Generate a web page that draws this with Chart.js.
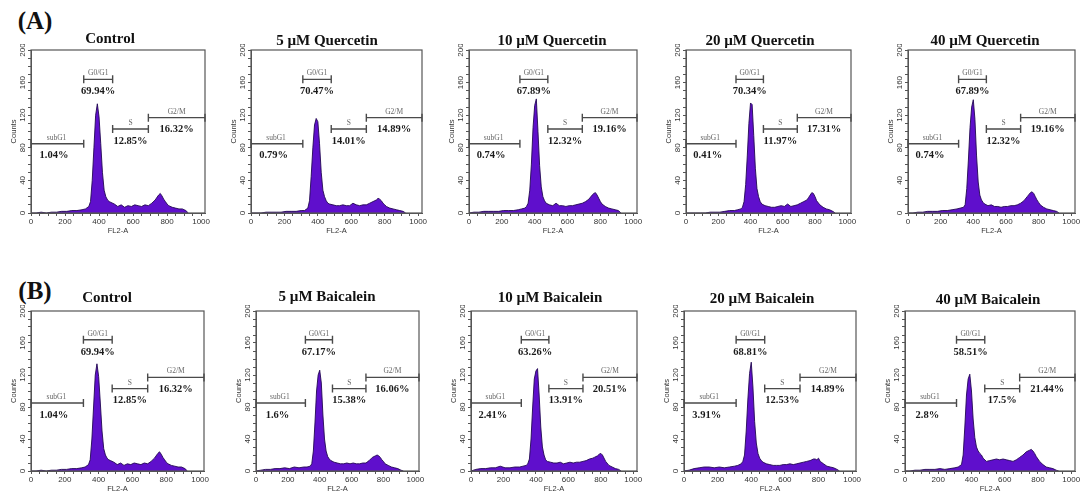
<!DOCTYPE html>
<html>
<head>
<meta charset="utf-8">
<script src="https://cdn.jsdelivr.net/npm/chart.js@4.4.0/dist/chart.umd.min.js"></script>
<style>
  html, body { margin: 0; padding: 0; background: #fff; }
  body { width: 1081px; height: 495px; position: relative; overflow: hidden; }
  canvas { position: absolute; }
  .ttl { position: absolute; transform: translate(-50%, -50%); white-space: nowrap;
         font: bold 15px "Liberation Serif", "Times New Roman", serif; color: #111; }
  .tag { position: absolute; transform: translate(-50%, -50%);
         font: bold 25px "Liberation Serif", "Times New Roman", serif; color: #111; }
</style>
</head>
<body>
<div class="tag" style="left:35px;top:21px">(A)</div>
<div class="tag" style="left:35px;top:291px">(B)</div>
<script>
// FL2-A channel positions of the histogram points
const channel = [0, 30, 60, 90, 120, 150, 180, 210, 240, 270, 300, 320, 340, 350, 360, 370, 380, 390, 400, 410,
                 420, 430, 440, 450, 460, 470, 490, 510, 530, 550, 570, 590, 610, 630, 650, 670, 690, 710, 730, 750,
                 760, 770, 780, 790, 800, 810, 830, 850, 870, 890, 910, 925];

// counts per panel
const control = [0,0,1,0,1,1,2,2,3,3,4,5,8,14,40,80,120,134,118,85,50,28,20,16,14,13,11,8,10,7,9,8,10,9,8,10,9,12,16,22,24,21,17,14,11,9,7,6,5,5,3,0];
const quer5   = [0,0,0,1,1,1,1,2,2,2,3,3,6,15,45,80,108,116,112,85,50,28,20,15,12,11,10,9,9,10,9,9,12,10,9,10,10,12,14,16,18,17,15,12,10,8,6,5,4,3,2,0];
const quer10  = [0,1,1,2,2,2,2,3,3,3,4,5,6,8,12,28,60,105,132,140,100,58,32,20,15,12,10,9,12,9,9,8,9,9,10,11,12,14,17,22,24,25,22,18,14,11,8,6,5,4,3,0];
const quer20  = [0,0,0,0,0,1,1,1,2,3,3,4,5,7,14,35,70,110,135,133,95,55,30,20,14,11,9,8,7,7,8,9,8,11,8,9,10,12,14,16,19,22,25,24,20,15,10,7,5,4,2,0];
const quer40  = [0,0,1,1,2,2,2,3,3,4,5,6,7,10,30,65,105,130,139,115,70,38,22,16,13,11,9,10,8,8,7,8,8,9,9,10,12,15,20,25,26,24,20,16,13,10,7,5,4,3,2,0];
const baic5   = [0,1,2,2,3,3,4,3,5,4,5,5,6,9,25,60,100,120,126,110,70,40,25,18,15,13,11,10,9,9,10,9,10,9,9,10,10,13,17,19,20,19,17,14,12,9,7,5,4,3,1,0];
const baic10  = [0,2,3,3,4,4,6,4,4,5,5,6,7,9,15,40,80,115,125,128,95,55,30,20,14,12,11,10,10,11,9,10,11,10,11,11,12,13,15,16,17,18,19,21,22,20,12,7,5,3,2,0];
const baic20  = [0,1,3,4,5,5,4,5,4,5,6,7,9,12,20,50,90,122,136,105,62,35,22,16,13,11,9,8,7,7,7,8,8,9,8,9,10,11,12,13,14,15,15,14,16,12,9,6,5,4,2,0];
const baic40  = [0,0,1,1,2,2,2,3,2,3,4,5,8,20,55,95,115,121,100,65,42,30,25,22,20,16,12,13,14,15,14,15,14,13,12,14,17,20,24,26,27,25,22,18,15,12,8,5,4,3,1,0];

// gates: subG1, G0/G1, S, G2/M
const gateNames = ['subG1', 'G0/G1', 'S', 'G2/M'];
const gateFrom  = [0, 310, 480, 690];
const gateTo    = [310, 480, 690, 1023];
const gateLevel = [85, 164, 103, 117];

// percentages per panel (subG1, G0/G1, S, G2/M)
const pctControl = ['1.04%', '69.94%', '12.85%', '16.32%'];
const pctQuer5   = ['0.79%', '70.47%', '14.01%', '14.89%'];
const pctQuer10  = ['0.74%', '67.89%', '12.32%', '19.16%'];
const pctQuer20  = ['0.41%', '70.34%', '11.97%', '17.31%'];
const pctQuer40  = ['0.74%', '67.89%', '12.32%', '19.16%'];
const pctBaic5   = ['1.6%', '67.17%', '15.38%', '16.06%'];
const pctBaic10  = ['2.41%', '63.26%', '13.91%', '20.51%'];
const pctBaic20  = ['3.91%', '68.81%', '12.53%', '14.89%'];
const pctBaic40  = ['2.8%', '58.51%', '17.5%', '21.44%'];

const titles = ['Control', '5 µM Quercetin', '10 µM Quercetin', '20 µM Quercetin', '40 µM Quercetin',
                'Control', '5 µM Baicalein', '10 µM Baicalein', '20 µM Baicalein', '40 µM Baicalein'];
const series = [control, quer5, quer10, quer20, quer40, control, baic5, baic10, baic20, baic40];
const pcts = [pctControl, pctQuer5, pctQuer10, pctQuer20, pctQuer40, pctControl, pctBaic5, pctBaic10, pctBaic20, pctBaic40];

// layout (pixels): where 0 and 1000 on the x axis fall, row top/bottom, title centre
const layout = [
  { x0: 31,  x1: 201, top: 50,  bot: 213, tx: 110, ty: 38 },
  { x0: 251, x1: 418, top: 50,  bot: 213, tx: 327, ty: 40 },
  { x0: 469, x1: 633, top: 50,  bot: 213, tx: 552, ty: 40 },
  { x0: 686, x1: 847, top: 50,  bot: 213, tx: 760, ty: 40 },
  { x0: 908, x1: 1071, top: 50, bot: 213, tx: 985, ty: 40 },
  { x0: 31,  x1: 200, top: 311, bot: 471, tx: 107, ty: 297 },
  { x0: 256, x1: 415, top: 311, bot: 471, tx: 327, ty: 296 },
  { x0: 471, x1: 633, top: 311, bot: 471, tx: 550, ty: 297 },
  { x0: 684, x1: 852, top: 311, bot: 471, tx: 762, ty: 298 },
  { x0: 905, x1: 1071, top: 311, bot: 471, tx: 988, ty: 299 }
];

const labelAt = [150, 395, 585, 856];
const pctAt = [135, 395, 585, 856];
const XMAX = 1023;
const YW = 22, XH = 22, PT = 6, PR = 10, PB = 2;
const sans = '"Liberation Sans", Arial, sans-serif';
const serif = '"Liberation Serif", "Times New Roman", serif';

const gatePlugin = {
  id: 'gates',
  afterDatasetsDraw(chart, args, opts) {
    const { ctx, chartArea: a, scales: { x, y } } = chart;
    ctx.save();
    // box frame
    ctx.strokeStyle = '#555';
    ctx.lineWidth = 1.2;
    ctx.strokeRect(a.left, a.top, a.right - a.left, a.bottom - a.top);
    for (let i = 0; i < gateNames.length; i++) {
      const gy = y.getPixelForValue(gateLevel[i]);
      const gx1 = x.getPixelForValue(gateFrom[i]);
      const gx2 = Math.min(x.getPixelForValue(gateTo[i]), a.right);
      ctx.strokeStyle = '#4a4a4a';
      ctx.lineWidth = 1.4;
      ctx.beginPath();
      ctx.moveTo(gx1, gy); ctx.lineTo(gx2, gy);
      ctx.moveTo(gx1, gy - 4); ctx.lineTo(gx1, gy + 4);
      ctx.moveTo(gx2, gy - 4); ctx.lineTo(gx2, gy + 4);
      ctx.stroke();
      ctx.textAlign = 'center';
      ctx.fillStyle = '#666';
      ctx.font = '7.5px ' + serif;
      ctx.textBaseline = 'alphabetic';
      ctx.fillText(gateNames[i], x.getPixelForValue(labelAt[i]), gy - 4);
      ctx.fillStyle = '#1a1a1a';
      ctx.font = 'bold 10.5px ' + serif;
      ctx.textBaseline = 'middle';
      ctx.fillText(opts.pct[i], x.getPixelForValue(pctAt[i]), gy + 12);
    }
    ctx.restore();
  }
};

layout.forEach((L, k) => {
  const areaW = (L.x1 - L.x0) * XMAX / 1000;
  const areaH = L.bot - L.top;
  const cv = document.createElement('canvas');
  const w = Math.round(YW + areaW + PR), h = Math.round(PT + areaH + XH + PB);
  cv.width = w; cv.height = h;
  cv.style.width = w + 'px'; cv.style.height = h + 'px';
  cv.style.left = (L.x0 - YW) + 'px';
  cv.style.top = (L.top - PT) + 'px';
  document.body.appendChild(cv);

  const t = document.createElement('div');
  t.className = 'ttl';
  t.textContent = titles[k];
  t.style.left = L.tx + 'px';
  t.style.top = L.ty + 'px';
  document.body.appendChild(t);

  new Chart(cv, {
    type: 'line',
    data: {
      datasets: [{
        data: channel.map((c, i) => ({ x: c, y: series[k][i] })),
        fill: 'origin',
        backgroundColor: '#5f0fcc',
        borderColor: '#220852',
        borderWidth: 0.9,
        pointRadius: 0,
        tension: 0
      }]
    },
    options: {
      responsive: false,
      animation: false,
      layout: { padding: { top: PT, right: PR, bottom: PB, left: 0 } },
      plugins: {
        legend: { display: false },
        tooltip: { enabled: false },
        gates: { pct: pcts[k] }
      },
      scales: {
        x: {
          type: 'linear', min: 0, max: XMAX,
          grid: { drawOnChartArea: false, tickLength: 3, color: '#555' },
          border: { color: '#555' },
          ticks: {
            stepSize: 50, includeBounds: false, autoSkip: false, minRotation: 0, maxRotation: 0, padding: 1,
            color: '#333', font: { family: sans, size: 8 },
            callback: v => (v % 200 === 0 ? v : '')
          },
          title: { display: true, text: 'FL2-A', color: '#333', font: { family: sans, size: 7.5 }, padding: 0 },
          afterFit: s => { s.height = XH; s.paddingLeft = 0; s.paddingRight = 0; }
        },
        y: {
          min: 0, max: 200,
          grid: { drawOnChartArea: false, tickLength: 3, color: '#555' },
          border: { color: '#555' },
          ticks: {
            stepSize: 10, autoSkip: false, minRotation: 90, maxRotation: 90, crossAlign: 'center', padding: -1,
            color: '#333', font: { family: sans, size: 8 },
            callback: v => (v % 40 === 0 ? v : '')
          },
          title: { display: true, text: 'Counts', color: '#333', font: { family: sans, size: 7.5 }, padding: 0 },
          afterFit: s => { s.width = YW; s.paddingTop = 0; s.paddingBottom = 0; }
        }
      }
    },
    plugins: [gatePlugin]
  });
});
</script>
</body>
</html>
